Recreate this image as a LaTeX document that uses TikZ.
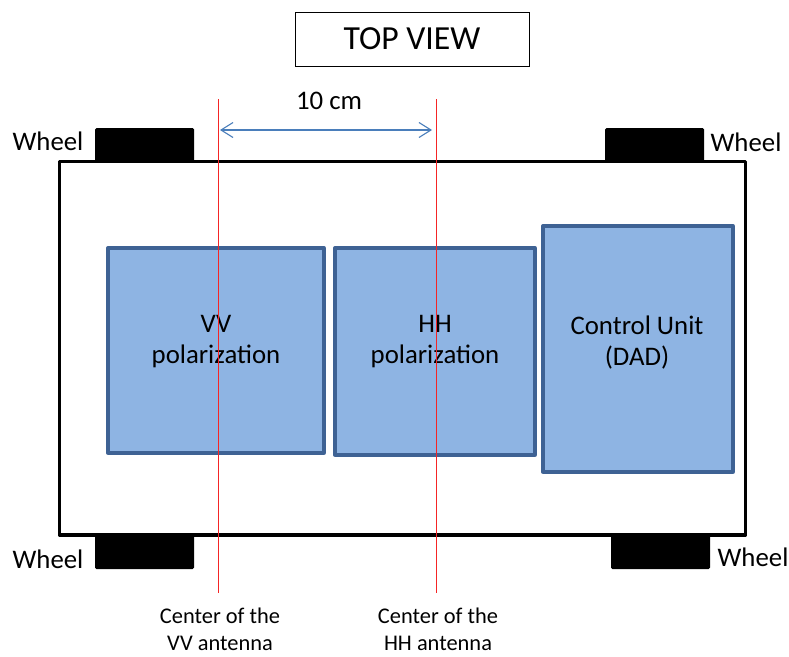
\documentclass[tikz,border=0pt]{standalone}
\usepackage{fontspec}
\setmainfont{Carlito}
\usetikzlibrary{arrows.meta}
\definecolor{boxfill}{HTML}{8EB4E3}
\definecolor{boxline}{HTML}{3E6294}
\definecolor{arrowblue}{HTML}{4A7EBB}
\definecolor{axisred}{HTML}{F52525}
\begin{document}
\begin{tikzpicture}[x=1pt,y=-1pt,
  body/.style={draw=black, line width=3.2pt, line join=round, inner sep=0pt, fill=white},
  unit/.style={draw=boxline, fill=boxfill, line width=3.3pt, line join=round, inner sep=0pt},
  wheel/.style={fill=black, rounded corners=1.5pt, inner sep=0pt},
  lbl/.style={font=\fontsize{26.8}{31}\selectfont, inner sep=0pt, align=center},
  note/.style={font=\fontsize{22.4}{27}\selectfont, align=center, inner sep=0pt},
  axis/.style={draw=axisred, line width=1pt},
  dim/.style={draw=arrowblue, line width=1.1pt, {Straight Barb[length=12pt,width=15pt]}-{Straight Barb[length=12pt,width=15pt]}},
]
\useasboundingbox (0,0) rectangle (789,656);
% title
\node[draw=black, line width=0.9pt, minimum width=234pt, minimum height=54pt, inner sep=0pt,
      font=\fontsize{33.7}{38}\selectfont] (title) at (412,39) {TOP VIEW};
% wheels
\node[wheel, minimum width=99pt, minimum height=34pt] (wtl) at (144.5,145) {};
\node[wheel, minimum width=99pt, minimum height=34pt] (wtr) at (654.5,145) {};
\node[wheel, minimum width=99pt, minimum height=34pt] (wbl) at (144.5,552) {};
\node[wheel, minimum width=99pt, minimum height=34pt] (wbr) at (660.5,552) {};
% body
\node[body, minimum width=686pt, minimum height=373.5pt] (car) at (402.5,348.25) {};
% units
\node[unit, minimum width=216pt, minimum height=205pt] (vv) at (216,350.5) {};
\node[unit, minimum width=200pt, minimum height=207pt] (hh) at (435,351.5) {};
\node[unit, minimum width=190pt, minimum height=246pt] (cu) at (638,349) {};
\node[lbl] (vvt) at (216,342) {VV\\polarization};
\node[lbl] (hht) at (435,342) {HH\\polarization};
\node[lbl] (cut) at (637,343) {Control Unit\\(DAD)};
% wheel labels
\node[lbl] (l1) at (48,141) {Wheel};
\node[lbl] (l2) at (746,142) {Wheel};
\node[lbl] (l3) at (48,559) {Wheel};
\node[lbl] (l4) at (753,557) {Wheel};
% antenna axes
\coordinate (vvtop) at (218,99);
\coordinate (vvbot) at (218,593);
\coordinate (hhtop) at (436,99);
\coordinate (hhbot) at (436,593);
\draw[axis] (vvtop) -- (vvbot);
\draw[axis] (hhtop) -- (hhbot);
% dimension
\coordinate (d1) at (220,130);
\coordinate (d2) at (432,130);
\draw[dim] (d1) -- (d2);
\node[lbl] (dist) at (329,101) {10 cm};
% notes
\node[note] (nvv) at (220,629) {Center of the\\VV antenna};
\node[note] (nhh) at (438,629) {Center of the\\HH antenna};
\end{tikzpicture}
\end{document}
